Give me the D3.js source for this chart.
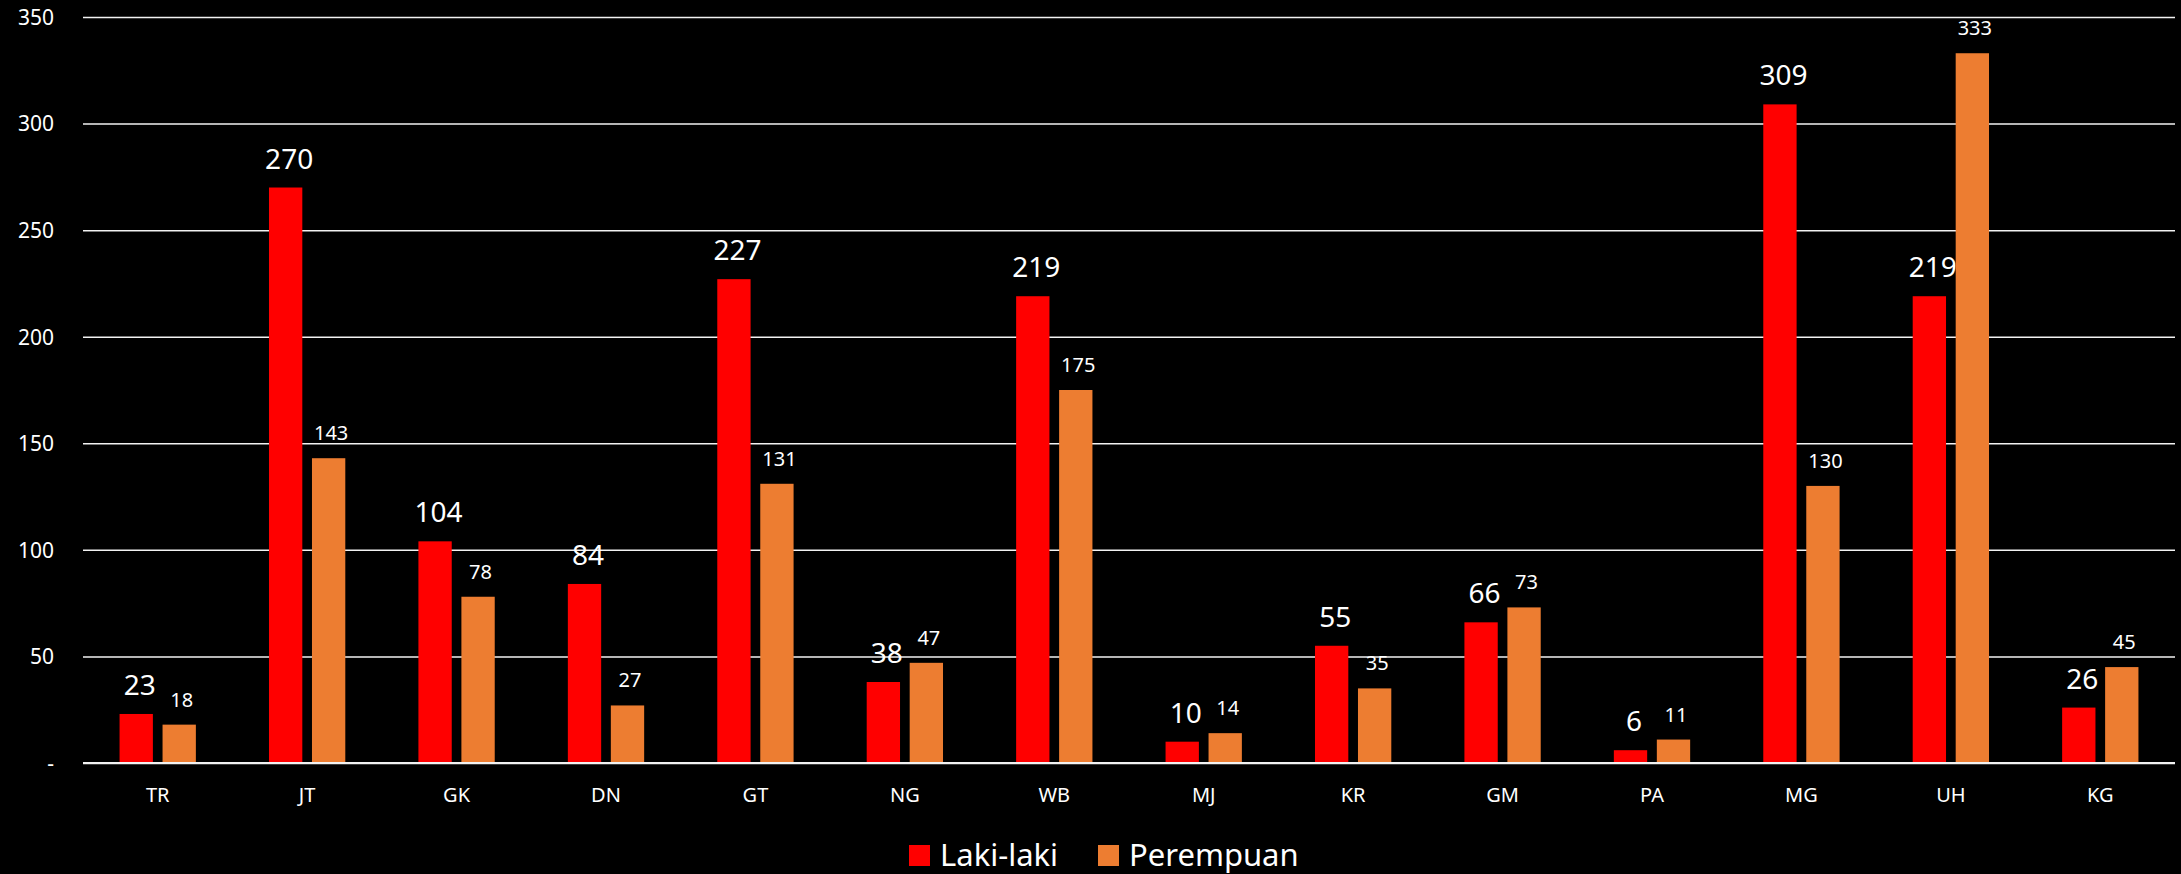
<!DOCTYPE html>
<html>
<head>
<meta charset="utf-8">
<script src="https://cdn.jsdelivr.net/npm/d3@7/dist/d3.min.js"></script>
<style>
  html, body { margin: 0; padding: 0; background: #000; }
  svg { display: block; }
  text { font-family: "Noto Sans", "Open Sans", sans-serif; fill: #fff; }
</style>
</head>
<body>
<svg id="chart" width="2181" height="874"></svg>
<script>
const categories = ["TR","JT","GK","DN","GT","NG","WB","MJ","KR","GM","PA","MG","UH","KG"];
const lakiLaki   = [23,270,104,84,227,38,219,10,55,66,6,309,219,26];
const perempuan  = [18,143,78,27,131,47,175,14,35,73,11,130,333,45];
const seriesNames = ["Laki-laki","Perempuan"];
const yTicks = [0,50,100,150,200,250,300,350];

const W = 2181, H = 874;
const margin = {left: 83, right: 6, top: 17, bottom: 111};
const svg = d3.select("#chart");
svg.append("rect").attr("width", W).attr("height", H).attr("fill", "#000");

const x = d3.scaleBand().domain(categories).range([margin.left, W - margin.right]).paddingInner(0).paddingOuter(0);
const y = d3.scaleLinear().domain([0, 350]).range([H - margin.bottom, margin.top]);

const colors = ["#FF0000", "#ED7D31"];
const series = [lakiLaki, perempuan];
const barW = x.bandwidth() * 0.223;
const gap = barW * 0.29;
const labelSizes = [28, 20];
const labelShift = [3.5, 2.5];

// grid
const yAxis = d3.axisLeft(y).tickValues(yTicks).tickSize(-(W - margin.left - margin.right))
  .tickFormat(d => d === 0 ? "-" : d3.format("d")(d));
const gy = svg.append("g").attr("transform", `translate(${margin.left},0)`).call(yAxis);
gy.select(".domain").remove();
gy.selectAll(".tick line").attr("stroke", "#f2f2f2").attr("stroke-width", 1.5);
gy.selectAll(".tick text").attr("x", -29).attr("dy", "0.35em")
  .style("font-size", "21px").attr("fill", "#fff");

// bars
series.forEach((vals, si) => {
  const offset = si === 0 ? -(gap / 2 + barW) : gap / 2;
  const g = svg.append("g");
  g.selectAll("rect").data(vals).join("rect")
    .attr("x", (d, i) => x(categories[i]) + x.bandwidth() / 2 + offset)
    .attr("y", d => y(d))
    .attr("width", barW)
    .attr("height", d => y(0) - y(d))
    .attr("fill", colors[si]);
  g.selectAll("text").data(vals).join("text")
    .attr("x", (d, i) => x(categories[i]) + x.bandwidth() / 2 + offset + barW / 2 + labelShift[si])
    .attr("y", d => y(d) - (si === 0 ? 19 : 18))
    .attr("text-anchor", "middle")
    .style("font-size", labelSizes[si] + "px")
    .text(d => d);
});

// x axis labels
const xAxis = d3.axisBottom(x).tickSize(0);
const gx = svg.append("g").attr("transform", `translate(0,${y(0)})`).call(xAxis);
gx.select(".domain").remove();
gx.selectAll(".tick text").attr("y", 39).attr("dy", 0)
  .style("font-size", "20px").attr("fill", "#fff");

// redraw baseline on top
svg.append("line").attr("x1", margin.left).attr("x2", W - margin.right)
  .attr("y1", y(0)).attr("y2", y(0)).attr("stroke", "#f2f2f2").attr("stroke-width", 2);

// legend
const legend = svg.append("g");
const legendItems = [{name: seriesNames[0], x: 909}, {name: seriesNames[1], x: 1098}];
legendItems.forEach((it, i) => {
  legend.append("rect").attr("x", it.x).attr("y", 845).attr("width", 21).attr("height", 21).attr("fill", colors[i]);
  legend.append("text").attr("x", it.x + 31).attr("y", 866).style("font-size", "31px").text(it.name);
});
</script>
</body>
</html>
